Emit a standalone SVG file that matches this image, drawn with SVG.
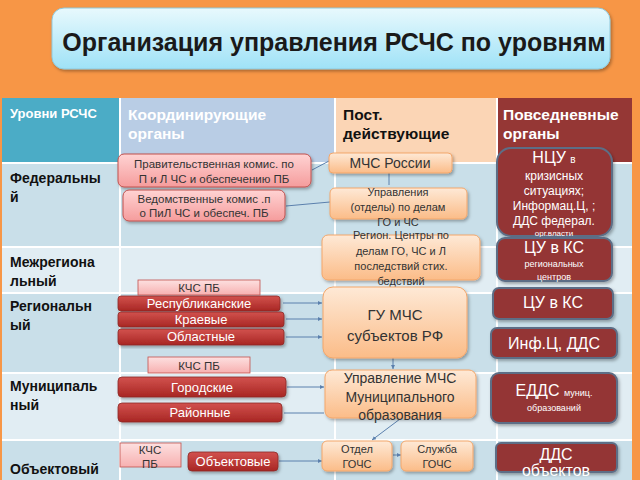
<svg xmlns="http://www.w3.org/2000/svg" width="640" height="480" viewBox="0 0 640 480">
<defs>
<style>
text{font-family:"Liberation Sans",Arial,sans-serif}
.lvl{font-size:14px;font-weight:bold;fill:#111}
.hdr{font-size:15.5px;font-weight:bold}
.grid{stroke:#fff;stroke-width:2}
.pink{fill:url(#gPink);stroke:#c0504d;stroke-width:1;filter:url(#sh)}
.lpink{fill:url(#gLPink);stroke:#c0504d;stroke-width:0.8}
.red{fill:url(#gRed);stroke:#8c2a27;stroke-width:0.8;filter:url(#sh)}
.peach{fill:url(#gPeach);stroke:#f3a66a;stroke-width:1;filter:url(#sh)}
.dred{fill:#943634;stroke:#5d6e86;stroke-width:2;filter:url(#sh)}
.tp{font-size:11.5px;fill:#333;text-anchor:middle}
.tw{font-size:13px;fill:#fff;text-anchor:middle}
.to{fill:#333;text-anchor:middle}
.tr{fill:#fff;text-anchor:middle}
.con{stroke:#5b80ad;stroke-width:1;fill:none}
.arr{marker-end:url(#ah)}
</style>
<linearGradient id="gTitle" x1="0" y1="0" x2="0" y2="1"><stop offset="0" stop-color="#e8f9fd"/><stop offset="1" stop-color="#9fe2f7"/></linearGradient>
<linearGradient id="gPink" x1="0" y1="0" x2="0" y2="1"><stop offset="0" stop-color="#ffd3d3"/><stop offset="1" stop-color="#f59c9c"/></linearGradient>
<linearGradient id="gLPink" x1="0" y1="0" x2="0" y2="1"><stop offset="0" stop-color="#fde0e0"/><stop offset="1" stop-color="#f7b0b0"/></linearGradient>
<linearGradient id="gRed" x1="0" y1="0" x2="0" y2="1"><stop offset="0" stop-color="#d2524e"/><stop offset="1" stop-color="#a82623"/></linearGradient>
<linearGradient id="gPeach" x1="0" y1="0" x2="0" y2="1"><stop offset="0" stop-color="#fee9d6"/><stop offset="1" stop-color="#fbbc88"/></linearGradient>
<filter id="sh" x="-10%" y="-10%" width="125%" height="135%"><feDropShadow dx="1.5" dy="2" stdDeviation="1.5" flood-color="#000" flood-opacity="0.3"/></filter>
<marker id="ah" viewBox="0 0 6 6" refX="6" refY="3" markerWidth="4" markerHeight="4" orient="auto"><path d="M0,0L6,3L0,6z" fill="#5b80ad"/></marker>
</defs>
<rect x="0" y="0" width="640" height="480" fill="#f79646"/>
<g id="title">
<rect x="52" y="8" width="558" height="61" rx="12" fill="url(#gTitle)" stroke="#8fc9dc" stroke-width="1" filter="url(#sh)"/>
<text x="334" y="51" font-size="25" font-weight="bold" fill="#1a1a1a" text-anchor="middle">Организация управления РСЧС по уровням</text>
</g>
<g id="table">
<rect x="2" y="98" width="630" height="382" fill="#c9dfe9"/>
<rect x="2" y="98" width="118" height="65" fill="#4bacc6"/>
<rect x="120" y="98" width="215" height="65" fill="#b9cde5"/>
<rect x="335" y="98" width="162" height="65" fill="#fbd5b5"/>
<rect x="497" y="98" width="135" height="65" fill="#953735"/>
<rect x="2" y="247" width="630" height="46" fill="#e1edf3"/>
<rect x="2" y="373" width="630" height="67" fill="#e1edf3"/>
<line class="grid" x1="2" y1="163" x2="632" y2="163"/>
<line class="grid" x1="2" y1="247" x2="632" y2="247"/>
<line class="grid" x1="2" y1="293" x2="632" y2="293"/>
<line class="grid" x1="2" y1="373" x2="632" y2="373"/>
<line class="grid" x1="2" y1="440" x2="632" y2="440"/>
<line class="grid" x1="120" y1="98" x2="120" y2="480"/>
<line class="grid" x1="335" y1="98" x2="335" y2="480"/>
<line class="grid" x1="497" y1="98" x2="497" y2="480"/>
<text x="10" y="118" font-size="13" font-weight="bold" fill="#fff">Уровни РСЧС</text>
<text class="hdr" x="128" y="120" fill="#fff">Координирующие</text>
<text class="hdr" x="128" y="139" fill="#fff">органы</text>
<text class="hdr" x="343" y="120" fill="#111">Пост.</text>
<text class="hdr" x="343" y="139" fill="#111">действующие</text>
<text class="hdr" x="503" y="120" fill="#fff">Повседневные</text>
<text class="hdr" x="503" y="139" fill="#fff">органы</text>
<text class="lvl" x="10" y="183">Федеральны</text>
<text class="lvl" x="10" y="202">й</text>
<text class="lvl" x="10" y="267">Межрегиона</text>
<text class="lvl" x="10" y="286">льный</text>
<text class="lvl" x="10" y="311">Региональн</text>
<text class="lvl" x="10" y="330">ый</text>
<text class="lvl" x="10" y="391">Муниципаль</text>
<text class="lvl" x="10" y="410">ный</text>
<text class="lvl" x="10" y="474">Объектовый</text>
</g>
<g id="connectors">
<line class="con" x1="312" y1="170" x2="329" y2="161"/>
<line class="con" x1="286" y1="206" x2="330" y2="202"/>
<line class="con" x1="389" y1="173" x2="389" y2="185"/>
<line class="con arr" x1="283" y1="303" x2="322" y2="303"/>
<line class="con arr" x1="286" y1="319" x2="322" y2="319"/>
<line class="con arr" x1="286" y1="337" x2="322" y2="337"/>
<line class="con arr" x1="393" y1="358" x2="393" y2="369"/>
<line class="con arr" x1="287" y1="387" x2="324" y2="387"/>
<line class="con" x1="284" y1="413" x2="324" y2="413"/>
<line class="con arr" x1="400" y1="419" x2="372" y2="440"/>
<line class="con arr" x1="393" y1="455" x2="401" y2="455"/>
<line class="con arr" x1="279" y1="461" x2="322" y2="461"/>
</g>
<g id="n_prav">
<rect class="pink" x="118" y="154" width="193" height="33" rx="6"/>
<text class="tp" x="214" y="168">Правительственная комис. по</text>
<text class="tp" x="214" y="183">П и Л  ЧС и обеспечению ПБ</text>
</g>
<g id="n_ved">
<rect class="pink" x="123" y="190" width="162" height="31" rx="6"/>
<text class="tp" x="204" y="203">Ведомственные комис .п</text>
<text class="tp" x="204" y="217">о ПиЛ  ЧС и обеспеч. ПБ</text>
</g>
<g id="n_kchs1">
<rect class="lpink" x="138" y="280" width="122" height="15"/>
<text class="tp" x="199" y="292" font-size="12">КЧС ПБ</text>
</g>
<g id="n_resp">
<rect class="red" x="118" y="296" width="162" height="15" rx="3"/>
<text class="tw" x="199" y="308">Республиканские</text>
</g>
<g id="n_kraev">
<rect class="red" x="118" y="312" width="166" height="15" rx="3"/>
<text class="tw" x="201" y="324">Краевые</text>
</g>
<g id="n_obl">
<rect class="red" x="118" y="329" width="166" height="16" rx="3"/>
<text class="tw" x="201" y="341">Областные</text>
</g>
<g id="n_kchs2">
<rect class="lpink" x="148" y="357" width="102" height="16"/>
<text class="tp" x="199" y="370" font-size="13">КЧС ПБ</text>
</g>
<g id="n_gor">
<rect class="red" x="118" y="377" width="168" height="20" rx="4"/>
<text class="tw" x="202" y="392">Городские</text>
</g>
<g id="n_rai">
<rect class="red" x="118" y="403" width="164" height="19" rx="4"/>
<text class="tw" x="200" y="417">Районные</text>
</g>
<g id="n_kchs3">
<rect class="lpink" x="120" y="443" width="61" height="24"/>
<text class="tp" x="150" y="454" font-size="12">КЧС</text>
<text class="tp" x="150" y="468" font-size="12">ПБ</text>
</g>
<g id="n_obekt">
<rect class="red" x="188" y="452" width="90" height="19" rx="4"/>
<text class="tw" x="233" y="466" font-size="11">Объектовые</text>
</g>
<g id="n_mchs">
<rect class="peach" x="329" y="153" width="123" height="20" rx="4"/>
<text class="to" x="390" y="168" font-size="14">МЧС  России</text>
</g>
<g id="n_upr">
<rect class="peach" x="330" y="188" width="137" height="31" rx="5"/>
<text class="to" x="398" y="196" font-size="11" fill="#444">Управления</text>
<text class="to" x="398" y="211" font-size="11" fill="#444">(отделы) по делам</text>
<text class="to" x="398" y="226" font-size="11" fill="#444">ГО и ЧС</text>
</g>
<g id="n_region">
<rect class="peach" x="322" y="235" width="158" height="45" rx="6"/>
<text class="to" x="401" y="239" font-size="11" fill="#444">Регион. Центры по</text>
<text class="to" x="401" y="255" font-size="11" fill="#444">делам ГО, ЧС и Л</text>
<text class="to" x="401" y="270" font-size="11" fill="#444">последствий стих.</text>
<text class="to" x="401" y="285" font-size="11" fill="#444">бедствий</text>
</g>
<g id="n_gu">
<rect class="peach" x="323" y="287" width="144" height="71" rx="10"/>
<text class="to" x="395" y="320" font-size="15">ГУ МЧС</text>
<text class="to" x="395" y="341" font-size="15">субъектов РФ</text>
</g>
<g id="n_upmun">
<rect class="peach" x="325" y="370" width="151" height="48" rx="7"/>
<text class="to" x="400" y="383" font-size="14">Управление МЧС</text>
<text class="to" x="400" y="402" font-size="14">Муниципального</text>
<text class="to" x="400" y="420" font-size="14">образования</text>
</g>
<g id="n_otdel">
<rect class="peach" x="322" y="441" width="70" height="30" rx="5"/>
<text class="to" x="357" y="453" font-size="11">Отдел</text>
<text class="to" x="357" y="468" font-size="11">ГОЧС</text>
</g>
<g id="n_sluzh">
<rect class="peach" x="401" y="441" width="72" height="30" rx="5"/>
<text class="to" x="437" y="453" font-size="11">Служба</text>
<text class="to" x="437" y="468" font-size="11">ГОЧС</text>
</g>
<g id="n_ncu">
<rect class="dred" x="497" y="148" width="115" height="88" rx="14"/>
<text class="tr" x="554" y="163"><tspan font-size="16">НЦУ </tspan><tspan font-size="10">в</tspan></text>
<text class="tr" x="554" y="180" font-size="12">кризисных</text>
<text class="tr" x="554" y="195" font-size="12">ситуациях;</text>
<text class="tr" x="554" y="210" font-size="12">Информац.Ц, ;</text>
<text class="tr" x="554" y="225" font-size="12">ДДС федерал.</text>
<text class="tr" x="554" y="236" font-size="8">орг.власти</text>
</g>
<g id="n_cureg">
<rect class="dred" x="497" y="238" width="115" height="43" rx="8"/>
<text class="tr" x="554" y="253" font-size="16">ЦУ в КС</text>
<text class="tr" x="554" y="267" font-size="9">региональных</text>
<text class="tr" x="554" y="280" font-size="9">центров</text>
</g>
<g id="n_cu">
<rect class="dred" x="493" y="288" width="120" height="31" rx="6"/>
<text class="tr" x="553" y="308" font-size="16">ЦУ в КС</text>
</g>
<g id="n_inf">
<rect class="dred" x="491" y="328" width="126" height="30" rx="6"/>
<text class="tr" x="554" y="349" font-size="16">Инф.Ц,  ДДС</text>
</g>
<g id="n_edds">
<rect class="dred" x="491" y="373" width="126" height="50" rx="8"/>
<text class="tr" x="554" y="396"><tspan font-size="16">ЕДДС </tspan><tspan font-size="9"> муниц.</tspan></text>
<text class="tr" x="554" y="411" font-size="9">образований</text>
</g>
<g id="n_dds">
<rect class="dred" x="496" y="443" width="121" height="29" rx="5"/>
<text class="tr" x="556" y="460" font-size="16">ДДС</text>
<text class="tr" x="556" y="476" font-size="16">объектов</text>
</g>
</svg>
